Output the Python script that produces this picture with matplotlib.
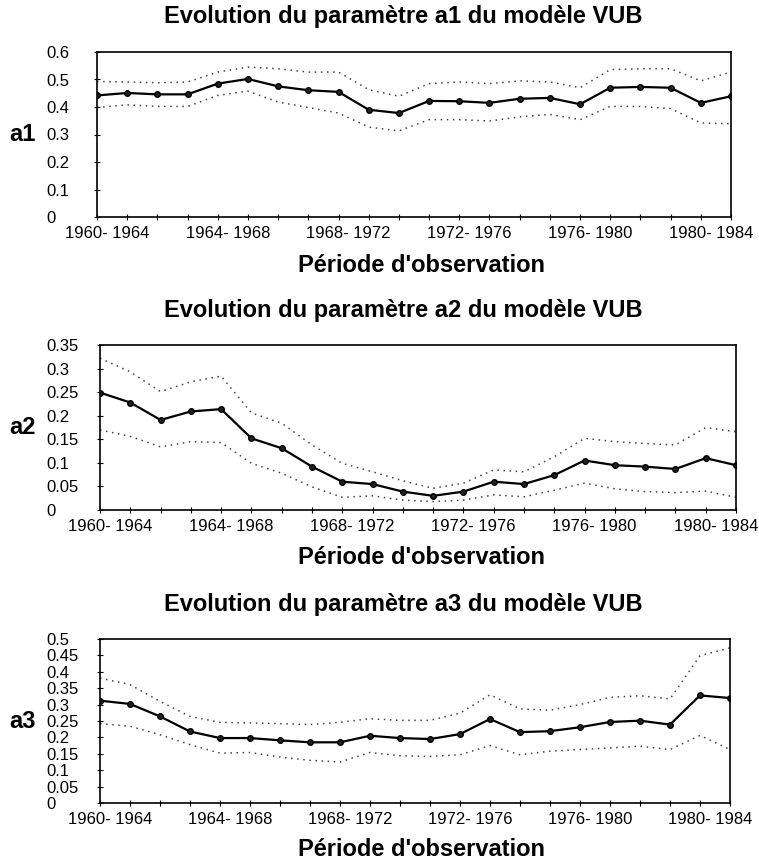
import numpy as np
import matplotlib.pyplot as plt
import matplotlib.transforms as mtransforms
from matplotlib.ticker import MultipleLocator, FixedLocator

plt.rcParams['font.family'] = ['Liberation Sans', 'DejaVu Sans']

periods = ['1960- 1964', '1964- 1968', '1968- 1972', '1972- 1976', '1976- 1980', '1980- 1984']

a1 = [0.442, 0.451, 0.446, 0.446, 0.485, 0.502, 0.475, 0.461, 0.455, 0.390, 0.378,
      0.422, 0.421, 0.415, 0.430, 0.433, 0.410, 0.470, 0.473, 0.470, 0.415, 0.439]
a1_hi = [0.493, 0.491, 0.488, 0.491, 0.527, 0.545, 0.539, 0.527, 0.527, 0.463, 0.439,
         0.485, 0.491, 0.485, 0.495, 0.491, 0.470, 0.536, 0.539, 0.539, 0.495, 0.527]
a1_lo = [0.398, 0.408, 0.402, 0.402, 0.442, 0.458, 0.418, 0.398, 0.378, 0.327, 0.313,
         0.354, 0.354, 0.349, 0.364, 0.373, 0.354, 0.402, 0.402, 0.394, 0.342, 0.339]

a2 = [0.249, 0.228, 0.191, 0.209, 0.214, 0.152, 0.131, 0.092, 0.060, 0.055, 0.039,
      0.030, 0.039, 0.060, 0.055, 0.074, 0.105, 0.095, 0.092, 0.087, 0.110, 0.095]
a2_hi = [0.322, 0.293, 0.251, 0.272, 0.284, 0.206, 0.184, 0.138, 0.099, 0.081, 0.062,
         0.046, 0.057, 0.085, 0.081, 0.113, 0.152, 0.145, 0.141, 0.138, 0.175, 0.166]
a2_lo = [0.170, 0.156, 0.134, 0.145, 0.143, 0.099, 0.078, 0.049, 0.027, 0.030, 0.021,
         0.018, 0.021, 0.032, 0.028, 0.042, 0.057, 0.045, 0.039, 0.037, 0.040, 0.027]

a3 = [0.312, 0.302, 0.264, 0.218, 0.198, 0.198, 0.191, 0.185, 0.185, 0.205, 0.198,
      0.195, 0.210, 0.256, 0.216, 0.219, 0.231, 0.247, 0.251, 0.239, 0.328, 0.320]
a3_hi = [0.381, 0.361, 0.310, 0.264, 0.246, 0.244, 0.242, 0.239, 0.246, 0.257, 0.252,
         0.252, 0.274, 0.330, 0.287, 0.283, 0.300, 0.322, 0.327, 0.317, 0.449, 0.473]
a3_lo = [0.242, 0.234, 0.208, 0.178, 0.152, 0.154, 0.140, 0.130, 0.125, 0.154, 0.144,
         0.142, 0.147, 0.175, 0.147, 0.158, 0.163, 0.168, 0.173, 0.163, 0.206, 0.163]

W, H = 759, 864
fig = plt.figure(figsize=(W / 100, H / 100), dpi=100)

# axes box in pixels (left, right, top, bottom), title y, xlabel y
panels = [
    ('a1', a1, a1_hi, a1_lo, (97, 731, 52, 217), 17, 266, 0.6, 0.1),
    ('a2', a2, a2_hi, a2_lo, (100, 736, 345, 510), 310, 557, 0.35, 0.05),
    ('a3', a3, a3_hi, a3_lo, (100, 730, 639, 803), 605, 850, 0.5, 0.05),
]

def fmt(v, p):
    s = ('%.2f' % v).rstrip('0').rstrip('.')
    return s if s else '0'

for name, mid, hi, lo, (l, r, t, b), ty, xy, ymax, ystep in panels:
    ax = fig.add_axes([l / W, 1 - b / H, (r - l) / W, (b - t) / H])
    x = np.arange(len(mid))
    ax.plot(x, hi, color='#444444', ls=(0, (1, 3)), lw=1.1)
    ax.plot(x, lo, color='#444444', ls=(0, (1, 3)), lw=1.1)
    ax.plot(x, mid, color='black', lw=1.6, marker='o', ms=4, mfc='#222222', mec='black')
    ax.set_xlim(0, len(mid) - 1)
    ax.set_ylim(0, ymax)
    ax.yaxis.set_major_locator(MultipleLocator(ystep))
    ax.yaxis.set_major_formatter(plt.FuncFormatter(fmt))
    ax.xaxis.set_major_locator(FixedLocator(np.arange(0, len(mid), 4)))
    ax.xaxis.set_minor_locator(FixedLocator(x))
    ax.set_xticklabels(periods)
    ax.tick_params(axis='both', which='both', direction='inout', length=5, width=0.8,
                   labelsize=12)
    ax.tick_params(axis='x', pad=4)
    ax.tick_params(axis='y', pad=0)
    # x labels sit a little right of their tick, y labels are left aligned
    xoff = mtransforms.ScaledTranslation(10 / 100, 0, fig.dpi_scale_trans)
    for lab in ax.get_xticklabels():
        lab.set_transform(lab.get_transform() + xoff)
    yoff = mtransforms.ScaledTranslation(-(l - 3.5 - 46) / 100, 0, fig.dpi_scale_trans)
    for lab in ax.get_yticklabels():
        lab.set_ha('left')
        lab.set_transform(lab.get_transform() + yoff)
    for s in ax.spines.values():
        s.set_linewidth(1.2)
    fig.text(403 / W, 1 - ty / H, 'Evolution du paramètre %s du modèle VUB' % name,
             ha='center', va='center', fontsize=17, fontweight='bold')
    fig.text(421 / W, 1 - xy / H, "Période d'observation",
             ha='center', va='center', fontsize=17, fontweight='bold')
    fig.text(22 / W, 1 - (t + b) / 2 / H, name, ha='center', va='center',
             fontsize=17, fontweight='bold')

fig.savefig('out.png', dpi=100)
